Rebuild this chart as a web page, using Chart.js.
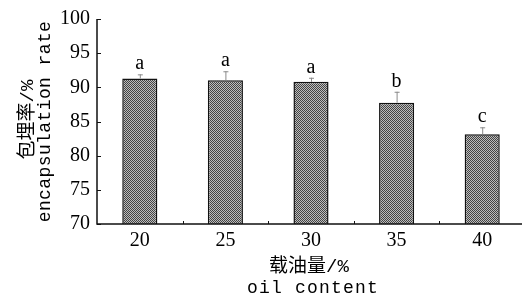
<!DOCTYPE html>
<html>
<head>
<meta charset="utf-8">
<script src="https://cdn.jsdelivr.net/npm/chart.js@4"></script>
<style>
  html, body { margin: 0; padding: 0; background: #fff; overflow: hidden; }
  #wrap { position: relative; width: 528px; height: 299px; }
</style>
</head>
<body>
<div id="wrap"><canvas id="c"></canvas></div>
<script>
const categories = ['20', '25', '30', '35', '40'];
const values = [91.3, 91.05, 90.8, 87.75, 83.15];
const errors = [0.6, 1.3, 0.6, 1.6, 1.0];
const letters = ['a', 'a', 'a', 'b', 'c'];
const yMin = 70, yMax = 100, yStep = 5;
const xTitle = ['载油量/%', 'oil content'];
const yTitle = ['包埋率/%', 'encapsulation rate'];

// dotted gray fill pattern
const pc = document.createElement('canvas');
pc.width = 2; pc.height = 2;
const pctx = pc.getContext('2d');
pctx.fillStyle = '#bdbdbd'; pctx.fillRect(0, 0, 2, 2);
pctx.fillStyle = '#444'; pctx.fillRect(0, 0, 1, 1); pctx.fillRect(1, 1, 1, 1);
const pattern = pctx.createPattern(pc, 'repeat');

const SERIF = "'Liberation Serif', 'DejaVu Serif', serif";
const MONO = "'Liberation Mono', 'DejaVu Sans Mono', monospace";
const CJK = "'Noto Sans CJK SC'";

const decor = {
  id: 'decor',
  afterDatasetsDraw(chart) {
    const ctx = chart.ctx;
    const a = chart.chartArea;
    const ys = chart.scales.y;
    const meta = chart.getDatasetMeta(0);
    ctx.save();
    // error bars and letters
    meta.data.forEach((bar, i) => {
      const x = bar.x;
      const yTop = ys.getPixelForValue(values[i]);
      const yErr = ys.getPixelForValue(values[i] + errors[i]);
      ctx.strokeStyle = '#8a8a8a';
      ctx.lineWidth = 1;
      ctx.beginPath();
      ctx.moveTo(x + 0.5, yTop);
      ctx.lineTo(x + 0.5, yErr);
      ctx.moveTo(x - 2, yErr + 0.5);
      ctx.lineTo(x + 3, yErr + 0.5);
      ctx.stroke();
      ctx.fillStyle = '#000';
      ctx.font = '20px ' + SERIF;
      ctx.textAlign = 'center';
      ctx.textBaseline = 'alphabetic';
      ctx.fillText(letters[i], x, yErr - 5);
    });
    // axes
    ctx.strokeStyle = '#111';
    ctx.lineWidth = 1.5;
    ctx.beginPath();
    ctx.moveTo(a.left, a.top);
    ctx.lineTo(a.left, a.bottom);
    ctx.lineTo(chart.width, a.bottom);
    ctx.stroke();
    ctx.lineWidth = 1;
    ctx.beginPath();
    for (let v = yMin; v <= yMax; v += yStep) {
      const py = Math.round(ys.getPixelForValue(v)) + 0.5;
      ctx.moveTo(a.left, py);
      ctx.lineTo(a.left + 4, py);
    }
    const w = (a.right - a.left) / categories.length;
    for (let i = 1; i < categories.length; i++) {
      const px = Math.round(a.left + i * w) + 0.5;
      ctx.moveTo(px, a.bottom);
      ctx.lineTo(px, a.bottom - 3);
    }
    ctx.stroke();
    // axis titles
    ctx.fillStyle = '#000';
    ctx.textAlign = 'center';
    ctx.textBaseline = 'alphabetic';
    ctx.font = '19px ' + MONO + ', ' + CJK;
    ctx.fillText(xTitle[0], 309, 272);
    ctx.font = '18px ' + MONO;
    ctx.letterSpacing = '1.2px';
    ctx.fillText(xTitle[1], 313, 293);
    // y titles rotated
    const cy = (a.top + a.bottom) / 2;
    ctx.save();
    ctx.translate(33, cy - 2);
    ctx.rotate(-Math.PI / 2);
    ctx.letterSpacing = '0px';
    ctx.font = '19px ' + MONO + ', ' + CJK;
    ctx.fillText(yTitle[0], 0, 0);
    ctx.restore();
    ctx.save();
    ctx.translate(50, cy);
    ctx.rotate(-Math.PI / 2);
    ctx.font = '18px ' + MONO;
    ctx.letterSpacing = '0.4px';
    ctx.fillText(yTitle[1], 0, 0);
    ctx.restore();
    ctx.restore();
  }
};

new Chart(document.getElementById('c'), {
  type: 'bar',
  data: {
    labels: categories,
    datasets: [{
      data: values,
      backgroundColor: pattern,
      borderColor: '#111',
      borderWidth: 1.5,
      borderSkipped: false,
      barPercentage: 0.41,
      categoryPercentage: 1.0
    }]
  },
  options: {
    responsive: true,
    maintainAspectRatio: false,
    animation: false,
    devicePixelRatio: 1,
    layout: { padding: { top: 16, left: 0, right: 3, bottom: 0 } },
    plugins: { legend: { display: false }, tooltip: { enabled: false } },
    scales: {
      x: {
        grid: { display: false, drawTicks: false },
        border: { display: false },
        ticks: { color: '#000', font: { family: SERIF, size: 20 }, padding: 5, maxRotation: 0 },
        afterFit(s) { s.height = 75; }
      },
      y: {
        min: yMin, max: yMax,
        grid: { display: false, drawTicks: false },
        border: { display: false },
        ticks: { stepSize: yStep, color: '#000', font: { family: SERIF, size: 20 }, padding: 7 },
        afterFit(s) { s.width = 97; }
      }
    }
  },
  plugins: [decor]
});
</script>
</body>
</html>
